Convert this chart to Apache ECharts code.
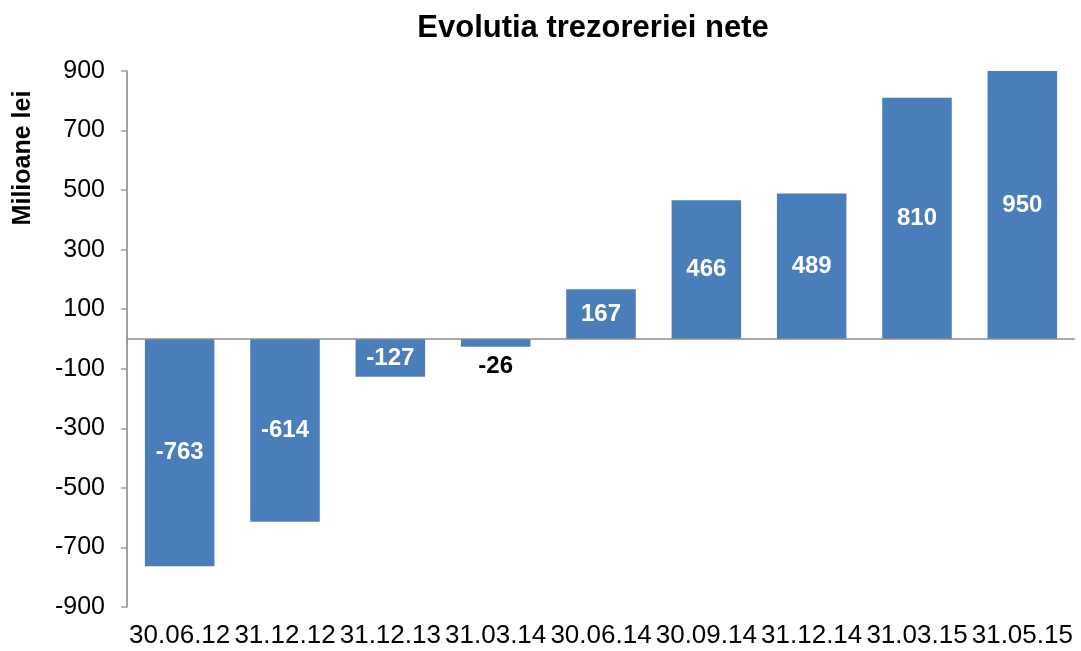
<!DOCTYPE html>
<html>
<head>
<meta charset="utf-8">
<script src="https://cdn.jsdelivr.net/npm/echarts@6/dist/echarts.min.js"></script>
<style>
  html, body { margin: 0; padding: 0; background: #fff; }
  #chart { width: 1081px; height: 651px; }
</style>
</head>
<body>
<div id="chart"></div>
<script>
// data
const categories = ['30.06.12', '31.12.12', '31.12.13', '31.03.14', '30.06.14', '30.09.14', '31.12.14', '31.03.15', '31.05.15']
const values = [-763, -614, -127, -26, 167, 466, 489, 810, 950]
const yTicks = { min: -900, max: 900, step: 200 }

const FONT = 'Liberation Sans, Arial, sans-serif'
const BAR = '#4a7ebb'

const chart = echarts.init(document.getElementById('chart'))

const barData = values.map((v) => {
  // the small -26 bar gets its label outside, in black
  if (Math.abs(v) < 60) {
    return { value: v, label: { position: 'bottom', color: '#000', distance: 8 } }
  }
  return v
})

chart.setOption({
  animation: false,
  title: {
    text: 'Evolutia trezoreriei nete',
    left: 588,
    textAlign: 'center',
    top: 8,
    textStyle: { fontFamily: FONT, fontSize: 31, fontWeight: 'bold', color: '#000' },
  },
  grid: { left: 127, right: 6, top: 71, bottom: 44 },
  xAxis: {
    type: 'category',
    data: categories,
    axisLine: { show: false },
    axisTick: { show: false },
    axisLabel: {
      interval: 0,
      margin: 16,
      color: '#000',
      fontFamily: FONT,
      fontSize: 26,
    },
  },
  yAxis: {
    type: 'value',
    min: yTicks.min,
    max: yTicks.max,
    interval: yTicks.step,
    splitLine: { show: false },
    axisLine: { show: true, lineStyle: { color: '#808080', width: 1.5 } },
    axisTick: { show: true, length: 6, lineStyle: { color: '#a0a0a0', width: 1.5 } },
    axisLabel: { margin: 22, color: '#000', fontFamily: FONT, fontSize: 25 },
  },
  graphic: [
    {
      type: 'text',
      x: 23,
      y: 158,
      rotation: Math.PI / 2,
      style: {
        text: 'Milioane lei',
        fontFamily: FONT,
        fontSize: 25,
        fontWeight: 'bold',
        fill: '#000',
        align: 'center',
        verticalAlign: 'middle',
      },
    },
  ],
  series: [
    {
      type: 'bar',
      data: barData,
      barWidth: '66%',
      clip: true,
      itemStyle: { color: BAR },
      label: {
        show: true,
        position: 'inside',
        color: '#fff',
        fontFamily: FONT,
        fontSize: 24,
        fontWeight: 'bold',
      },
      markLine: {
        silent: true,
        symbol: 'none',
        label: { show: false },
        lineStyle: { color: '#8c8c8c', width: 1.5, type: 'solid' },
        data: [{ yAxis: 0 }],
      },
    },
  ],
})
</script>
</body>
</html>
